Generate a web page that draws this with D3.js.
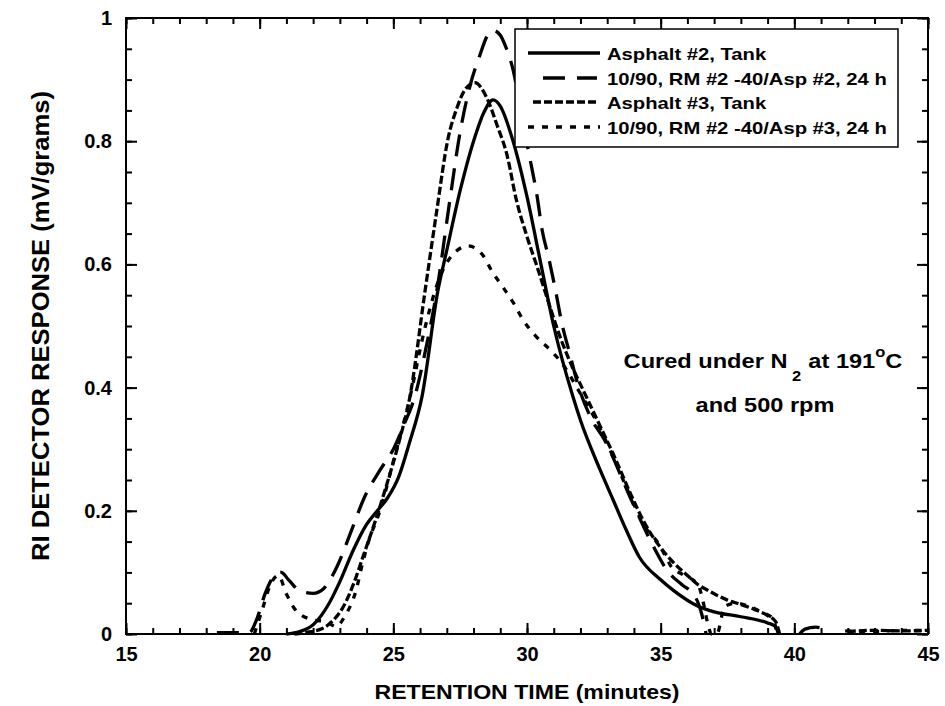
<!DOCTYPE html>
<html>
<head>
<meta charset="utf-8">
<script src="https://cdn.jsdelivr.net/npm/d3@7"></script>
<style>
  body { margin: 0; background: #fff; }
  text { font-family: "Liberation Sans", Arial, sans-serif; font-weight: bold; fill: #000; }
</style>
</head>
<body>
<svg id="chart" width="945" height="706"></svg>
<script>
// Axis ticks
const xTicks = [15, 20, 25, 30, 35, 40, 45];
const yTicks = [0, 0.2, 0.4, 0.6, 0.8, 1];

// Legend labels, one per chromatogram
const seriesNames = [
  "Asphalt #2, Tank",
  "10/90, RM #2 -40/Asp #2, 24 h",
  "Asphalt #3, Tank",
  "10/90, RM #2 -40/Asp #3, 24 h"
];

// Chromatograms: [retention time (min), RI response (mV/g)]; null response = break in trace
const asphalt2Tank = [
  [21.0,0],[21.5,0.004],[22.0,0.015],[22.6,0.05],[23.0,0.085],[23.5,0.136],[24.0,0.178],
  [24.4,0.2],[24.8,0.222],[25.2,0.255],[25.6,0.31],[26.07,0.385],[26.67,0.558],[27.0,0.623],
  [27.5,0.72],[28.0,0.80],[28.4,0.848],[28.73,0.867],[29.0,0.857],[29.48,0.80],[30.0,0.71],
  [30.49,0.607],[31.0,0.5],[31.72,0.385],[32.0,0.347],[32.7,0.27],[33.2,0.22],[33.7,0.17],
  [34.2,0.125],[35.0,0.088],[35.5,0.07],[36.4,0.045],[37.0,0.036],[38.0,0.028],[39.0,0.018],
  [39.3,0.012],[39.4,0]
];

const rm2Asp2 = [
  [18.4,0.002],[19.6,0.002],[19.9,0.025],[20.2,0.065],[20.5,0.092],[20.8,0.10],[21.1,0.087],
  [21.5,0.07],[22.0,0.066],[22.4,0.074],[22.9,0.11],[23.45,0.17],[23.9,0.22],[24.5,0.266],
  [25.0,0.3],[25.4,0.34],[25.8,0.385],[26.2,0.46],[26.63,0.558],[27.1,0.7],[27.5,0.815],
  [27.87,0.89],[28.24,0.94],[28.5,0.97],[28.73,0.98],[29.0,0.972],[29.18,0.956],[29.5,0.912],
  [29.8,0.84],[30.15,0.763],[30.38,0.71],[30.56,0.657],[30.82,0.609],[31.08,0.555],[31.3,0.505],
  [31.6,0.455],[31.87,0.41],[32.4,0.35],[32.9,0.315],[33.9,0.218],[34.6,0.153],[35.3,0.1],
  [35.8,0.08],[36.3,0.06],[36.55,0.03],[36.7,0],
  [36.8,null],
  [40.2,0],[40.4,0.008],[40.8,0.011],[41.1,0.008],[41.25,0]
];

const asphalt3Tank = [
  [21.3,0],[21.8,0.003],[22.3,0.008],[22.7,0.02],[23.1,0.042],[23.5,0.08],[23.9,0.13],
  [24.3,0.18],[24.7,0.235],[25.2,0.31],[25.62,0.385],[26.19,0.558],[26.6,0.68],[27.05,0.805],
  [27.38,0.854],[27.7,0.885],[28.05,0.895],[28.5,0.87],[28.88,0.826],[29.25,0.778],[29.6,0.705],
  [30.0,0.645],[30.38,0.596],[30.86,0.531],[31.24,0.482],[31.7,0.433],[32.1,0.396],[32.6,0.35],
  [33.3,0.285],[33.9,0.225],[34.4,0.18],[35.0,0.14],[35.5,0.115],[36.0,0.095],[36.4,0.08],
  [36.8,0.07],[37.1,0.063],[37.5,0.055],[38.0,0.048],[38.5,0.04],[39.0,0.03],[39.3,0.02],[39.45,0],
  [40.0,null],
  [42.0,0.004],[43.0,0.006],[44.0,0.005],[45.0,0.006]
];

const rm2Asp3 = [
  [19.8,0],[20.1,0.04],[20.4,0.08],[20.7,0.095],[21.0,0.065],[21.4,0.036],[22.0,0.023],
  [22.5,0.02],[22.85,0.012],[23.2,0.03],[23.6,0.07],[23.85,0.115],[24.05,0.147],[24.5,0.2],
  [25.0,0.28],[25.6,0.38],[26.2,0.5],[26.7,0.575],[27.2,0.615],[27.8,0.63],[28.35,0.615],
  [28.7,0.588],[29.1,0.563],[29.5,0.537],[29.85,0.51],[30.3,0.485],[30.94,0.458],[31.3,0.44],
  [32.0,0.39],[32.6,0.345],[33.3,0.28],[33.9,0.22],[34.4,0.175],[34.9,0.148],[35.2,0.125],
  [35.4,0.109],[35.84,0.096],[36.4,0.08],[36.6,0.05],[36.8,0.01],[36.9,0],[37.1,0],[37.4,0.045],
  [37.8,0.05],[38.3,0.045],[38.8,0.035],[39.2,0.025],[39.35,0],
  [40.0,null],
  [41.9,0.005],[43.0,0.004],[44.0,0.006],[45.0,0.005]
];

const seriesData = [asphalt2Tank, rm2Asp2, asphalt3Tank, rm2Asp3];
const dashes = [null, "22,12", "8,3", "6,8"];

const svg = d3.select("#chart");
const plotL = 126, plotR = 928, plotT = 18, plotB = 634;

const x = d3.scaleLinear().domain([15, 45]).range([plotL, plotR]);
const y = d3.scaleLinear().domain([0, 1]).range([plotB, plotT]);

// Curves
const line = d3.line()
  .defined(d => d[1] !== null)
  .x(d => x(d[0]))
  .y(d => y(d[1]))
  .curve(d3.curveMonotoneX);

svg.append("g").selectAll("path")
  .data(seriesData)
  .join("path")
  .attr("d", line)
  .attr("fill", "none")
  .attr("stroke", "#000")
  .attr("stroke-width", 3.3)
  .attr("stroke-dasharray", (d, i) => dashes[i]);

// Axes with inward ticks
function styleAxis(g) {
  g.select(".domain").remove();
  g.attr("font-family", null).attr("font-size", null);
  g.selectAll(".tick line").attr("stroke", "#000").attr("stroke-width", 2);
  g.selectAll(".tick text").style("font-size", "20px");
}

const minorX = d3.range(15, 45.01, 1);
const minorY = d3.range(0, 1.001, 0.05);

svg.append("g").attr("transform", `translate(0,${plotB})`)
  .call(d3.axisBottom(x).tickValues(minorX).tickSize(-6).tickFormat("")).call(styleAxis);
svg.append("g").attr("transform", `translate(0,${plotB})`)
  .call(d3.axisBottom(x).tickValues(xTicks).tickSize(-11).tickPadding(13).tickFormat(d3.format("d"))).call(styleAxis);
svg.append("g").attr("transform", `translate(0,${plotT})`)
  .call(d3.axisTop(x).tickValues(minorX).tickSize(-6).tickFormat("")).call(styleAxis);
svg.append("g").attr("transform", `translate(0,${plotT})`)
  .call(d3.axisTop(x).tickValues(xTicks).tickSize(-11).tickFormat("")).call(styleAxis);

svg.append("g").attr("transform", `translate(${plotL},0)`)
  .call(d3.axisLeft(y).tickValues(minorY).tickSize(-6).tickFormat("")).call(styleAxis);
svg.append("g").attr("transform", `translate(${plotL},0)`)
  .call(d3.axisLeft(y).tickValues(yTicks).tickSize(-11).tickPadding(14)
    .tickFormat(d => d === 0 || d === 1 ? d3.format("d")(d) : d3.format(".1f")(d))).call(styleAxis);
svg.append("g").attr("transform", `translate(${plotR},0)`)
  .call(d3.axisRight(y).tickValues(minorY).tickSize(-6).tickFormat("")).call(styleAxis);
svg.append("g").attr("transform", `translate(${plotR},0)`)
  .call(d3.axisRight(y).tickValues(yTicks).tickSize(-11).tickFormat("")).call(styleAxis);

// Frame
svg.append("rect")
  .attr("x", plotL).attr("y", plotT)
  .attr("width", plotR - plotL).attr("height", plotB - plotT)
  .attr("fill", "none").attr("stroke", "#000").attr("stroke-width", 2);

// Axis titles
svg.append("text")
  .attr("x", (plotL + plotR) / 2).attr("y", 699)
  .attr("text-anchor", "middle").style("font-size", "21px")
  .attr("textLength", 305).attr("lengthAdjust", "spacingAndGlyphs")
  .text("RETENTION TIME (minutes)");
svg.append("text")
  .attr("transform", `translate(49,${(plotT + plotB) / 2}) rotate(-90)`)
  .attr("text-anchor", "middle").style("font-size", "23px")
  .attr("textLength", 470).attr("lengthAdjust", "spacingAndGlyphs")
  .text("RI DETECTOR RESPONSE (mV/grams)");

// Legend
const legend = svg.append("g");
legend.append("rect")
  .attr("x", 515).attr("y", 29).attr("width", 383).attr("height", 118)
  .attr("fill", "#fff").attr("stroke", "#000").attr("stroke-width", 1.5);
const rowY = [53, 78, 102, 127];
const sampleStart = [528, 543, 533, 528];
const sampleEnd = [600, 597, 597, 600];
seriesNames.forEach((name, i) => {
  legend.append("line")
    .attr("x1", sampleStart[i]).attr("x2", sampleEnd[i]).attr("y1", rowY[i]).attr("y2", rowY[i])
    .attr("stroke", "#000").attr("stroke-width", 3.3)
    .attr("stroke-dasharray", dashes[i]);
  legend.append("text")
    .attr("transform", `translate(607,${rowY[i] + 7}) scale(1.19,1)`)
    .style("font-size", "17px")
    .text(name);
});

// Curing condition note
const note = svg.append("text")
  .attr("transform", "translate(763,368) scale(1.18,1)")
  .attr("text-anchor", "middle").style("font-size", "20px");
note.append("tspan").text("Cured under N");
note.append("tspan").attr("dx", 4).attr("dy", 13).style("font-size", "14px").text("2");
note.append("tspan").attr("dx", 6).attr("dy", -13).text("at 191");
note.append("tspan").attr("dy", -11).style("font-size", "14px").text("o");
note.append("tspan").attr("dy", 11).text("C");
svg.append("text")
  .attr("transform", "translate(765,412) scale(1.18,1)")
  .attr("text-anchor", "middle").style("font-size", "20px")
  .text("and 500 rpm");
</script>
</body>
</html>
